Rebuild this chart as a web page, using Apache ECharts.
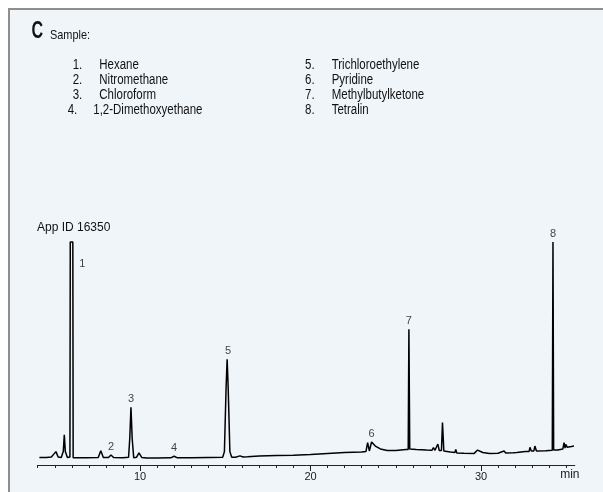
<!DOCTYPE html>
<html>
<head>
<meta charset="utf-8">
<script src="https://cdn.jsdelivr.net/npm/echarts@6/dist/echarts.min.js"></script>
<style>
html,body{margin:0;padding:0;background:#ffffff;}
#chart{width:603px;height:492px;}
</style>
</head>
<body>
<div id="chart"></div>
<script>
// Retention time (min) and detector signal (arbitrary units, 100 = clipped top)
const times = [
  4.1, 4.5, 4.8, 5.07, 5.2, 5.38, 5.5, 5.56, 5.62, 5.74, 5.89, 5.91, 6.06, 6.08,
  6.25, 6.8, 7.55, 7.7, 7.85, 8.15, 8.3, 8.45, 9.0, 9.33, 9.4, 9.47, 9.54, 9.63,
  9.8, 9.94, 10.1, 10.4, 11.0, 11.8, 12.0, 12.2, 13.0, 14.0, 14.85, 14.95, 15.05,
  15.11, 15.17, 15.27, 15.38, 15.6, 15.86, 16.05, 16.3, 17.0, 18.0, 19.0, 20.0,
  21.0, 22.0, 23.0, 23.25, 23.35, 23.45, 23.58, 23.8, 24.1, 24.5, 25.0, 25.6,
  25.73, 25.77, 25.82, 26.2, 26.8, 27.12, 27.21, 27.3, 27.4, 27.47, 27.55, 27.68,
  27.74, 27.82, 28.2, 28.47, 28.52, 28.58, 29.0, 29.6, 29.8, 30.1, 30.5, 31.0,
  31.35, 31.45, 31.9, 32.0, 32.1, 32.6, 32.82, 32.87, 32.95, 33.1, 33.16, 33.25,
  33.8, 34.18, 34.22, 34.26, 34.5, 34.8, 34.87, 34.93, 34.97, 35.05, 35.3, 35.45
];
const signal = [
  3.4, 3.4, 3.6, 6.0, 3.6, 3.4, 6.0, 13.5, 6.0, 3.4, 3.6, 100, 100, 3.3,
  3.2, 3.2, 3.4, 6.4, 3.4, 3.4, 4.5, 3.4, 3.2, 3.5, 12.0, 25.9, 12.0, 3.3,
  3.5, 5.4, 3.4, 3.1, 3.1, 3.2, 3.9, 3.2, 3.3, 3.4, 3.5, 6.0, 35.0,
  47.4, 35.0, 6.0, 3.45, 3.5, 4.1, 3.6, 3.7, 4.0, 4.3, 4.4, 4.7,
  5.2, 5.6, 5.8, 6.0, 10.0, 6.3, 10.3, 8.5, 7.2, 6.5, 6.5, 7.0,
  7.0, 60.9, 7.2, 7.0, 6.7, 6.6, 7.8, 6.6, 6.6, 9.4, 6.5, 6.5,
  19.0, 6.3, 5.8, 5.6, 7.0, 5.4, 5.25, 5.2, 6.7, 5.6, 5.2, 5.3,
  6.3, 5.4, 5.5, 6.3, 5.6, 6.1, 6.1, 7.9, 6.3, 6.3, 8.5, 6.3,
  6.4, 6.6, 100, 6.7, 6.7, 7.2, 10.0, 7.6, 9.3, 8.0, 8.3, 8.5
];

// Peak numbers, apex times and apex signals
const peakIds = ['1', '2', '3', '4', '5', '6', '7', '8'];
const peakTimes = [6.0, 8.3, 9.47, 12.0, 15.11, 23.58, 25.77, 34.22];
const peakSignals = [100, 4.5, 25.9, 3.9, 47.4, 10.3, 60.9, 100];

// Axis ticks
const minorTicks = [4,5,6,7,8,9,10,11,12,13,14,15,16,17,18,19,20,21,22,23,24,25,26,27,28,29,30,31,32,33,34,35];
const majorTicks = [10, 20, 30];

// Sample list
const sampleNums = ['1.', '2.', '3.', '4.', '5.', '6.', '7.', '8.'];
const sampleNames = ['Hexane', 'Nitromethane', 'Chloroform', '1,2-Dimethoxyethane',
  'Trichloroethylene', 'Pyridine', 'Methylbutylketone', 'Tetralin'];

const sans = '"Liberation Sans", Arial, Helvetica, sans-serif';

const graphics = [
  { type: 'rect', z: -10, silent: true,
    shape: { x: 9, y: 9, width: 700, height: 700 },
    style: { fill: '#f0f5fa', stroke: '#8e8e8e', lineWidth: 2 } },
  { type: 'text', x: 31.5, y: 32, scaleX: 0.7, style: { text: 'C', font: 'bold 23px ' + sans, fill: '#111', textVerticalAlign: 'middle' } },
  { type: 'text', x: 50, y: 35.5, scaleX: 0.84, style: { text: 'Sample:', font: '13px ' + sans, fill: '#111', textVerticalAlign: 'middle' } },
  { type: 'text', x: 37, y: 228, style: { text: 'App ID 16350', font: '12px ' + sans, fill: '#111', textVerticalAlign: 'middle' } }
];
const rowY = [65, 80, 95, 110];
for (let i = 0; i < 8; i++) {
  const col = i < 4 ? 0 : 1;
  const r = i % 4;
  const numX = col === 0 ? (i === 3 ? 67.7 : 72.7) : 305;
  const nameX = col === 0 ? (i === 3 ? 93.3 : 99.3) : 331.7;
  graphics.push({ type: 'text', x: numX, y: rowY[r], scaleX: 0.82, style: { text: sampleNums[i], font: '14px ' + sans, fill: '#111', textVerticalAlign: 'middle' } });
  graphics.push({ type: 'text', x: nameX, y: rowY[r], scaleX: 0.82, style: { text: sampleNames[i], font: '14px ' + sans, fill: '#111', textVerticalAlign: 'middle' } });
}

const labelData = peakIds.map((id, i) => {
  const d = { value: [peakTimes[i], peakSignals[i]], name: id };
  if (id === '1') d.label = { position: 'right', distance: 7, offset: [0, 22] };
  if (id === '5') d.label = { offset: [1, 0] };
  return d;
});

const chart = echarts.init(document.getElementById('chart'), null, { renderer: 'canvas' });
chart.setOption({
  backgroundColor: '#ffffff',
  animation: false,
  graphic: graphics,
  grid: { left: 37.7, right: 28.2, top: 242, bottom: 27, containLabel: false },
  xAxis: [
    {
      type: 'value', min: 4, max: 35.5,
      axisLine: { show: true, onZero: false, lineStyle: { color: '#222', width: 1 } },
      axisTick: { show: true, customValues: minorTicks, length: 3, lineStyle: { color: '#222', width: 1 } },
      axisLabel: { show: true, customValues: majorTicks, margin: 6, fontSize: 11, color: '#222', fontFamily: sans },
      splitLine: { show: false },
      name: 'min', nameLocation: 'end', nameGap: -5,
      nameTextStyle: { fontSize: 12, color: '#222', fontFamily: sans, align: 'center', verticalAlign: 'top', padding: [4, 0, 0, 0] }
    },
    {
      type: 'value', min: 4, max: 35.5, position: 'bottom',
      axisLine: { show: false },
      axisTick: { show: true, customValues: majorTicks, length: 6, lineStyle: { color: '#222', width: 1 } },
      axisLabel: { show: false },
      splitLine: { show: false }
    }
  ],
  yAxis: { type: 'value', min: 0, max: 100, show: false },
  series: [
    {
      type: 'line', xAxisIndex: 0,
      data: times.map((t, i) => [t, signal[i]]),
      showSymbol: false, symbol: 'none',
      lineStyle: { color: '#000', width: 1.5 },
      clip: false, z: 3
    },
    {
      type: 'scatter', xAxisIndex: 0,
      data: labelData,
      symbolSize: 1,
      itemStyle: { color: 'rgba(0,0,0,0)' },
      label: { show: true, position: 'top', distance: 2, formatter: '{b}', fontSize: 11, color: '#111', fontFamily: sans },
      clip: false, z: 4
    }
  ]
});
</script>
</body>
</html>
